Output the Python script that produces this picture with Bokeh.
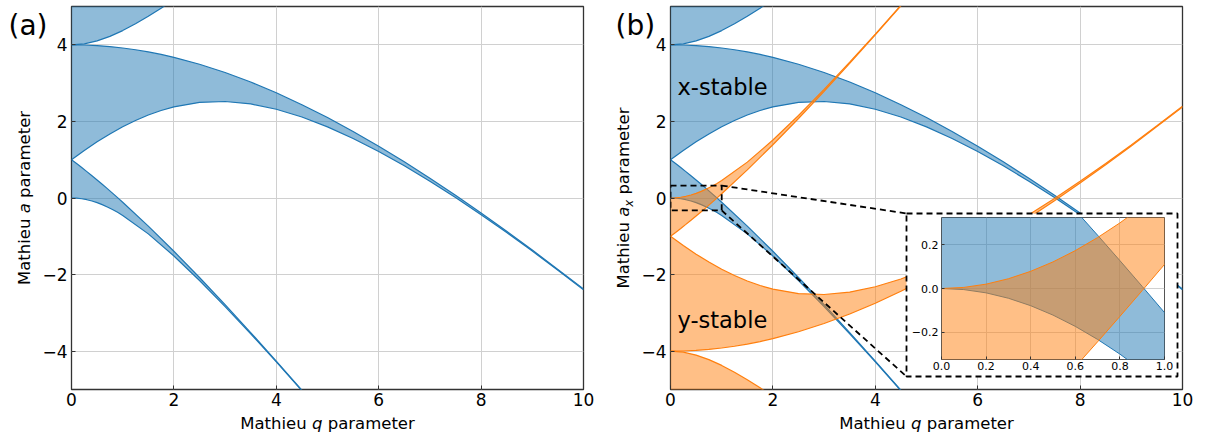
import numpy as np
from bokeh.plotting import figure
from bokeh.models import Label, FixedTicker, Range1d
from bokeh.layouts import row
from bokeh.core.properties import value
from bokeh.embed import file_html
from bokeh.resources import INLINE

# ---------------- data (Mathieu characteristic curves) ----------------
q_ab = [0.0, 0.1, 0.2, 0.3, 0.4, 0.5, 0.6, 0.7, 0.8, 0.9, 1.0,
        1.5, 2.0, 2.5, 3.0, 3.5, 4.0, 4.5, 5.0]
a0 = [0.0, -0.0050, -0.0199, -0.0446, -0.0787, -0.1218, -0.1734, -0.2331, -0.3003, -0.3746, -0.4551,
      -0.9368, -1.5140, -2.1531, -2.8344, -3.5460, -4.2805, -5.0330, -5.8000]
b1 = [1.0, 0.8988, 0.7951, 0.6892, 0.5810, 0.4707, 0.3583, 0.2439, 0.1277, 0.0096, -0.1102,
      -0.7333, -1.3908, -2.0763, -2.7854, -3.5140, -4.2592, -5.0185, -5.7901]

q_main = [0.0, 0.25, 0.5, 0.75, 1.0, 1.25, 1.5, 1.75, 2.0, 2.5, 3.0, 3.5, 4.0, 4.5, 5.0,
          5.5, 6.0, 6.5, 7.0, 7.5, 8.0, 8.5, 9.0, 9.5, 10.0]
a1 = [1.0, 1.2419, 1.4668, 1.6730, 1.8591, 2.0238, 2.1659, 2.2845, 2.3792, 2.4960, 2.5190,
      2.4564, 2.3165, 2.1153, 1.8582, 1.5555, 1.2143, 0.8404, 0.4385, 0.0121, -0.4358,
      -0.9028, -1.3867, -1.8860, -2.3991]
b2 = [4.0, 3.9948, 3.9792, 3.9532, 3.9170, 3.8707, 3.8143, 3.7481, 3.6722, 3.4925, 3.2769,
      3.0277, 2.7468, 2.4368, 2.0995, 1.7370, 1.3514, 0.9444, 0.5175, 0.0726, -0.3892,
      -0.8669, -1.3588, -1.8642, -2.3723]

q_top = [0.0, 0.25, 0.5, 0.75, 1.0, 1.25, 1.5, 1.75, 2.0, 2.5]
a2 = [4.0, 4.0258, 4.1009, 4.2188, 4.3713, 4.5498, 4.7467, 4.9561, 5.1727, 5.6130]
b3 = [9.0, 9.0037, 9.0137, 9.0288, 9.0472, 9.0678, 9.0888, 9.1086, 9.1254, 9.1400]

x_ticks = [0, 2, 4, 6, 8, 10]
x_tick_labels = ["0", "2", "4", "6", "8", "10"]
y_ticks = [-4, -2, 0, 2, 4]
y_tick_labels = ["\u22124", "\u22122", "0", "2", "4"]
inset_x_ticks = [0.0, 0.2, 0.4, 0.6, 0.8, 1.0]
inset_x_labels = ["0.0", "0.2", "0.4", "0.6", "0.8", "1.0"]
inset_y_ticks = [-0.2, 0.0, 0.2]
inset_y_labels = ["\u22120.2", "0.0", "0.2"]
zoom_q = (0.0, 1.0)
zoom_a = (-0.325, 0.325)

BLUE = "#1f77b4"
ORANGE = "#ff7f0e"
FONT = "DejaVu Sans"

# ---------------- layout (page pixels) ----------------
W_PAGE, H = 1212, 438
FRAME_TOP, FRAME_BOTTOM = 6, 389
FRAME_W = 512
A_FRAME_LEFT, A_W = 71, 600
B_FRAME_LEFT, B_W = 670, 612
LABEL_FS = 16.5
MID = 0.36  # cap-centre height above the baseline, in em


def dx(px, frame_left):
    return (px - frame_left) / FRAME_W * 10.0


def dy(py):
    return -5.0 + (FRAME_BOTTOM - py) / (FRAME_BOTTOM - FRAME_TOP) * 10.0


def style_axes(p, xt, xl, yt, yl, fs):
    p.xaxis.ticker = FixedTicker(ticks=xt)
    p.yaxis.ticker = FixedTicker(ticks=yt)
    p.xaxis.major_label_overrides = {k: v for k, v in zip(xt, xl)}
    p.yaxis.major_label_overrides = {k: v for k, v in zip(yt, yl)}
    for ax in (p.xaxis[0], p.yaxis[0]):
        ax.axis_line_color = None
        ax.major_tick_in = 4
        ax.major_tick_out = 0
        ax.major_tick_line_color = "#333333"
        ax.minor_tick_line_color = None
        ax.major_label_text_font = FONT
        ax.major_label_text_font_size = f"{fs}px"
        ax.major_label_text_color = "black"
    p.xaxis.major_label_standoff = 3
    p.yaxis.major_label_standoff = 4
    p.grid.grid_line_color = "#d0d0d0"
    p.grid.grid_line_width = 1
    p.outline_line_color = "#333333"
    p.outline_line_width = 1.3
    p.background_fill_color = "white"
    p.border_fill_color = "white"


def make_panel(width, frame_left_local, border_right):
    p = figure(width=width, height=H, x_range=Range1d(0, 10), y_range=Range1d(-5, 5),
               output_backend="svg", toolbar_location=None,
               min_border_left=frame_left_local, min_border_right=border_right,
               min_border_top=FRAME_TOP, min_border_bottom=H - FRAME_BOTTOM)
    style_axes(p, x_ticks, x_tick_labels, y_ticks, y_tick_labels, 17)
    return p


def draw_bands(p, sign, color, lw=1.2):
    s = float(sign)
    qa, qm, qt = np.array(q_ab), np.array(q_main), np.array(q_top)
    lo_hi = [(qa, np.array(a0) * s, np.array(b1) * s),
             (qm, np.array(a1) * s, np.array(b2) * s),
             (qt, np.array(a2) * s, np.array(b3) * s)]
    for q, lo, hi in lo_hi:
        p.varea(x=q, y1=lo, y2=hi, fill_color=color, fill_alpha=0.5)
    for q, lo, hi in lo_hi:
        p.line(q, lo, line_color=color, line_width=lw)
        p.line(q, hi, line_color=color, line_width=lw)


# ---------------- panel (a) ----------------
pa = make_panel(A_W, A_FRAME_LEFT, A_W - A_FRAME_LEFT - FRAME_W)
draw_bands(pa, 1, BLUE)

# ---------------- panel (b) ----------------
b_left_local = B_FRAME_LEFT - A_W
pb = make_panel(B_W, b_left_local, B_W - b_left_local - FRAME_W)
draw_bands(pb, 1, BLUE)
draw_bands(pb, -1, ORANGE)
for txt, py in (("x-stable", 95), ("y-stable", 328)):
    pb.add_layout(Label(x=dx(677, B_FRAME_LEFT), y=dy(py - MID * 22.5), text=txt, text_font=FONT,
                        text_font_size="22.5px", text_baseline="middle", text_color="black"))

# inset frame box (page pixels) and its indication
BOX_L, BOX_T, BOX_R, BOX_B = 906, 213, 1177, 376
bl, br = dx(BOX_L, B_FRAME_LEFT), dx(BOX_R, B_FRAME_LEFT)
bt, bb = dy(BOX_T), dy(BOX_B)
pb.quad(left=[bl], right=[br], top=[bt], bottom=[bb], fill_color="white", fill_alpha=1.0,
        line_color="black", line_dash="6 4", line_width=1.8)
pb.line([zoom_q[1], bl], [zoom_a[1], bt], line_color="black", line_dash="6 4", line_width=1.8)
pb.line([zoom_q[1], bl], [zoom_a[0], bb], line_color="black", line_dash="6 4", line_width=1.8)
pb.quad(left=[zoom_q[0]], right=[zoom_q[1]], top=[zoom_a[1]], bottom=[zoom_a[0]],
        fill_color=None, line_color="black", line_dash="6 4", line_width=1.8)

# ---------------- inset ----------------
INS_L, INS_T, INS_W, INS_H = 908, 215, 267, 159
ins = figure(width=INS_W, height=INS_H, x_range=Range1d(*zoom_q), y_range=Range1d(*zoom_a),
             output_backend="svg", toolbar_location=None,
             min_border_left=30, min_border_right=11, min_border_top=2, min_border_bottom=15)
style_axes(ins, inset_x_ticks, inset_x_labels, inset_y_ticks, inset_y_labels, 11)
ins.xaxis.major_tick_in = 3
ins.yaxis.major_tick_in = 3
ins.xaxis.major_label_standoff = 2
ins.yaxis.major_label_standoff = 3
ins.outline_line_color = "#555555"
ins.outline_line_width = 1
qa = np.array(q_ab)
ins.varea(x=qa, y1=np.array(a0), y2=np.array(b1), fill_color=BLUE, fill_alpha=0.5)
ins.line(qa, np.array(a0), line_color=BLUE, line_width=1)
ins.line(qa, np.array(b1), line_color=BLUE, line_width=1)
ins.varea(x=qa, y1=-np.array(b1), y2=-np.array(a0), fill_color=ORANGE, fill_alpha=0.5)
ins.line(qa, -np.array(a0), line_color=ORANGE, line_width=1)
ins.line(qa, -np.array(b1), line_color=ORANGE, line_width=1)
ins.styles = {"position": "absolute", "left": f"{INS_L}px", "top": f"{INS_T}px",
              "width": f"{INS_W}px", "height": f"{INS_H}px", "z-index": "10"}

# ---------------- text overlay (page pixel coordinates, y measured upward) ----------------
ov = figure(width=W_PAGE, height=H, x_range=Range1d(0, W_PAGE), y_range=Range1d(0, H),
            output_backend="svg", toolbar_location=None, x_axis_type=None, y_axis_type=None,
            min_border=0, min_border_left=0, min_border_right=0, min_border_top=0,
            min_border_bottom=0)
ov.grid.visible = False
ov.outline_line_color = None
ov.background_fill_alpha = 0
ov.border_fill_alpha = 0
ov.styles = {"position": "absolute", "left": "0px", "top": "0px",
             "width": f"{W_PAGE}px", "height": f"{H}px", "z-index": "20",
             "pointer-events": "none"}


def put(px, py, text, size, italic=False, angle=0.0):
    """px, py: start of the text's baseline (page pixels)."""
    if angle == 0.0:
        cx, cy = px, py - MID * size
    else:
        cx, cy = px - MID * size, py
    ov.text(x=[cx], y=[H - cy], text=[text], angle=angle,
            text_font=value(FONT), text_font_size=value(f"{size}px"),
            text_font_style=value("italic" if italic else "normal"),
            text_baseline=value("middle"), text_align=value("left"),
            text_color="black")


def x_label(frame_left, letter):
    fs = LABEL_FS
    x0 = frame_left + FRAME_W / 2 - 10.579 * fs / 2
    put(x0, 429, "Mathieu", fs)
    put(x0 + 4.347 * fs, 429, letter, fs, italic=True)
    put(x0 + 5.300 * fs, 429, "parameter", fs)


def y_label(frame_left, with_sub):
    fs = LABEL_FS
    sub_fs = round(0.7 * fs, 1)
    sub_w = 0.592 * sub_fs if with_sub else 0.0
    total = 10.557 * fs + sub_w
    start = (FRAME_TOP + FRAME_BOTTOM) / 2 + total / 2
    xb = frame_left - 41
    ang = np.pi / 2
    put(xb, start, "Mathieu", fs, angle=ang)
    put(xb, start - 4.347 * fs, "a", fs, italic=True, angle=ang)
    off = 4.960 * fs
    if with_sub:
        put(xb + 3.5, start - off, "x", sub_fs, italic=True, angle=ang)
        off += sub_w
    put(xb, start - off - 0.318 * fs, "parameter", fs, angle=ang)


put(8, 35, "(a)", 28)
put(615, 35, "(b)", 28)
x_label(A_FRAME_LEFT, "q")
x_label(B_FRAME_LEFT, "q")
y_label(A_FRAME_LEFT, False)
y_label(B_FRAME_LEFT, True)

layout = row(pa, pb, spacing=0)
open("out.html", "w").write(file_html([layout, ins, ov], INLINE))
